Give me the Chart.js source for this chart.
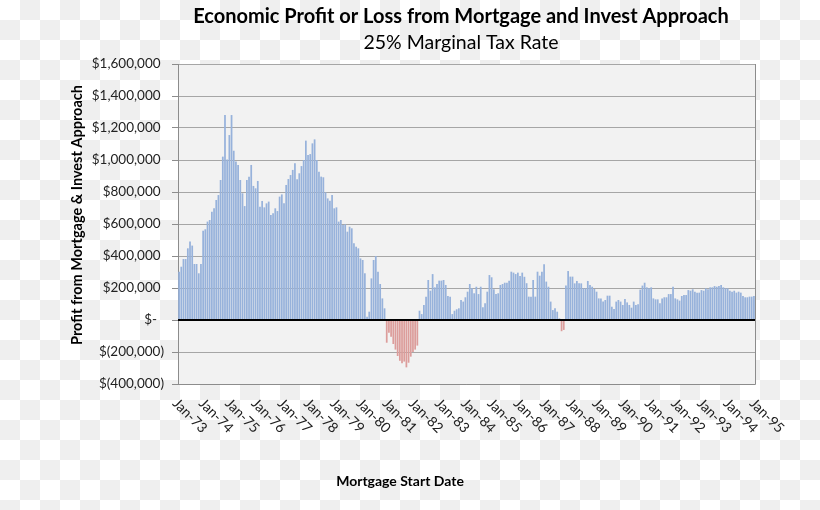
<!DOCTYPE html>
<html>
<head>
<meta charset="utf-8">
<script src="https://cdn.jsdelivr.net/npm/chart.js@4.4.1/dist/chart.umd.min.js"></script>
<style>
  html, body { margin: 0; padding: 0; }
  body {
    width: 820px; height: 510px;
    background-color: #fff;
    background-image: conic-gradient(#efefef 25%, #fff 0 50%, #efefef 0 75%, #fff 0);
    background-size: 40px 40px;
  }
  #myCanvas { display: block; }
</style>
</head>
<body>
<canvas id="myCanvas" width="820" height="510"></canvas>
<script>
const chartTitle = "Economic Profit or Loss from Mortgage and Invest Approach";
const chartSubtitle = "25% Marginal Tax Rate";
const yAxisTitle = "Profit from Mortgage & Invest Approach";
const xAxisTitle = "Mortgage Start Date";

// one label per January on the date axis
const yearLabels = ["Jan-73", "Jan-74", "Jan-75", "Jan-76", "Jan-77", "Jan-78", "Jan-79", "Jan-80",
  "Jan-81", "Jan-82", "Jan-83", "Jan-84", "Jan-85", "Jan-86", "Jan-87", "Jan-88", "Jan-89",
  "Jan-90", "Jan-91", "Jan-92", "Jan-93", "Jan-94", "Jan-95"];

// y axis range
const yMin = -400000;
const yMax = 1600000;
const yStep = 200000;

// profit per mortgage start month, Jan-73 .. Dec-94
const profit = [
  302000, 333000, 381000, 381000, 448000, 490000, 465000, 350000, 350000, 292000, 350000, 558000,
  567000, 615000, 625000, 677000, 698000, 750000, 781000, 875000, 1021000, 1281000, 1003000, 1156000,
  1281000, 1058000, 990000, 969000, 875000, 792000, 712000, 875000, 896000, 969000, 838000, 823000,
  869000, 708000, 744000, 704000, 729000, 740000, 656000, 667000, 698000, 681000, 771000, 785000,
  729000, 844000, 881000, 906000, 938000, 979000, 879000, 917000, 962000, 1000000, 1121000, 1031000,
  1037000, 1104000, 1129000, 1000000, 927000, 896000, 892000, 798000, 760000, 746000, 781000, 698000,
  704000, 615000, 625000, 594000, 598000, 552000, 583000, 573000, 479000, 458000, 448000, 385000,
  375000, 292000, 21000, 52000, 260000, 375000, 400000, 302000, 225000, 135000, 73000, -142000,
  -80000, -104000, -150000, -185000, -225000, -255000, -271000, -260000, -296000, -267000, -229000, -200000,
  -185000, -160000, 58000, 37000, 94000, 146000, 250000, 183000, 287000, 204000, 225000, 246000,
  246000, 250000, 219000, 150000, 146000, 37000, 58000, 67000, 73000, 125000, 115000, 142000,
  177000, 225000, 198000, 167000, 208000, 162000, 208000, 79000, 104000, 177000, 281000, 267000,
  192000, 162000, 167000, 219000, 225000, 233000, 233000, 246000, 302000, 296000, 287000, 296000,
  275000, 296000, 270000, 230000, 146000, 146000, 250000, 146000, 302000, 277000, 302000, 348000,
  240000, 208000, 115000, 62000, 73000, 52000, 10000, -70000, -62000, 215000, 306000, 271000,
  271000, 229000, 244000, 229000, 229000, 198000, 198000, 244000, 219000, 208000, 194000, 177000,
  135000, 135000, 115000, 125000, 152000, 152000, 83000, 69000, 115000, 125000, 115000, 94000,
  131000, 110000, 94000, 77000, 115000, 94000, 98000, 190000, 215000, 233000, 204000, 198000,
  204000, 135000, 129000, 129000, 104000, 135000, 142000, 142000, 162000, 162000, 208000, 135000,
  129000, 121000, 150000, 156000, 156000, 187000, 183000, 192000, 177000, 171000, 171000, 187000,
  183000, 198000, 192000, 204000, 204000, 212000, 208000, 212000, 219000, 204000, 198000, 198000,
  183000, 177000, 183000, 171000, 177000, 171000, 150000, 142000, 142000, 146000, 146000, 150000
];

const posColor = "#97b2db";
const negColor = "#dc9d9b";
const font = "Lato";

function money(v) {
  if (v === 0) return "$-  ";
  const s = Math.abs(v).toLocaleString("en-US");
  return v < 0 ? "$(" + s + ")" : "$" + s + " ";
}

// plot background, zero line, border, titles and rotated date labels
const decor = {
  id: "decor",
  beforeDraw(chart) {
    const a = chart.chartArea;
    const ctx = chart.ctx;
    ctx.save();
    ctx.fillStyle = "#f2f2f2";
    ctx.fillRect(a.left, a.top, a.right - a.left, a.bottom - a.top);
    ctx.restore();
  },
  afterDatasetsDraw(chart) {
    const a = chart.chartArea;
    const ctx = chart.ctx;
    const y0 = Math.round(chart.scales.y.getPixelForValue(0));
    ctx.save();
    ctx.strokeStyle = "#000";
    ctx.lineWidth = 2;
    ctx.beginPath();
    ctx.moveTo(a.left, y0);
    ctx.lineTo(a.right, y0);
    ctx.stroke();
    ctx.strokeStyle = "#8c8c8c";
    ctx.lineWidth = 1;
    ctx.beginPath();
    ctx.moveTo(a.right + 0.5, a.top);
    ctx.lineTo(a.right + 0.5, a.bottom + 0.5);
    ctx.lineTo(a.left, a.bottom + 0.5);
    ctx.stroke();
    ctx.restore();
  },
  afterDraw(chart) {
    const a = chart.chartArea;
    const ctx = chart.ctx;
    const xs = chart.scales.x;
    ctx.save();
    ctx.fillStyle = "#000";
    ctx.textAlign = "center";
    ctx.textBaseline = "middle";
    ctx.font = "bold 20px " + font;
    ctx.fillText(chartTitle, 461, 17);
    ctx.font = "19.5px " + font;
    ctx.fillText(chartSubtitle, 461, 43);

    ctx.font = "bold 14px " + font;
    ctx.fillText(xAxisTitle, 400, 481);
    ctx.save();
    ctx.translate(77, 215);
    ctx.rotate(-Math.PI / 2);
    ctx.font = "bold 14.5px " + font;
    ctx.fillText(yAxisTitle, 0, 0);
    ctx.restore();

    ctx.font = "14px " + font;
    ctx.fillStyle = "#222";
    ctx.textAlign = "left";
    yearLabels.forEach((lab, k) => {
      const x = xs.getPixelForValue(k * 12);
      ctx.save();
      ctx.translate(x - 3, a.bottom + 17);
      ctx.rotate(Math.PI / 4);
      ctx.fillText(lab, 0, 0);
      ctx.restore();
    });
    ctx.restore();
  }
};

const myCanvas = document.getElementById("myCanvas");

const gChart = new Chart(myCanvas, {
  type: "bar",
  data: {
    datasets: [{
      data: profit.map((v, i) => ({ x: i + 0.5, y: v })),
      backgroundColor: profit.map(v => v < 0 ? negColor : posColor),
      borderWidth: 0,
      barPercentage: 0.8,
      categoryPercentage: 1
    }]
  },
  options: {
    responsive: false,
    animation: false,
    layout: { padding: { left: 0, right: 65, top: 64, bottom: 0 } },
    plugins: {
      legend: { display: false },
      tooltip: { enabled: false }
    },
    scales: {
      x: {
        type: "linear",
        min: 0,
        max: yearLabels.length * 12 - 12,
        offset: false,
        grid: { display: false },
        border: { display: false },
        ticks: { display: false, stepSize: 12 },
        afterFit(scale) { scale.height = 126; }
      },
      y: {
        min: yMin,
        max: yMax,
        ticks: {
          stepSize: yStep,
          padding: 8,
          color: "#222",
          font: { family: font, size: 13.5 },
          callback: v => money(v)
        },
        grid: { color: "#a6a6a6", tickColor: "#8c8c8c", tickLength: 6 },
        border: { color: "#8c8c8c" },
        afterFit(scale) { scale.width = 178; }
      }
    }
  },
  plugins: [decor]
});
</script>
</body>
</html>
